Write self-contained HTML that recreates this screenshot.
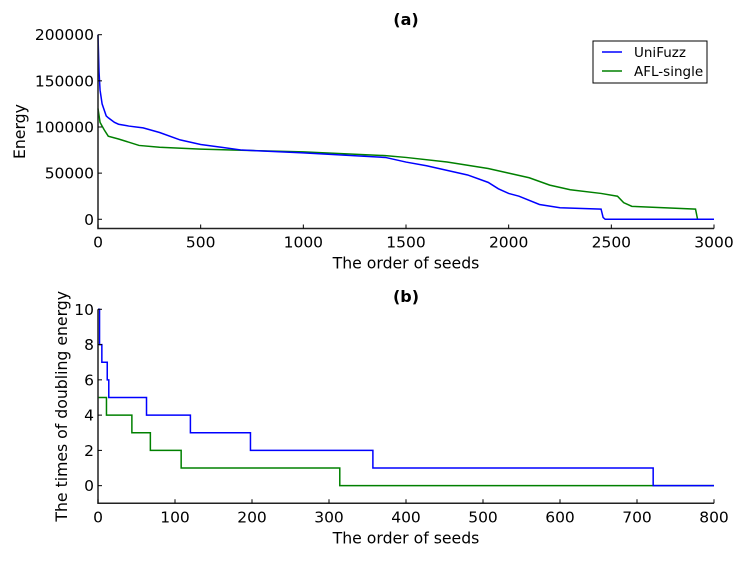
<!DOCTYPE html>
<html><head><meta charset="utf-8"><style>
body{margin:0;background:#fff;}
svg text{font-family:"DejaVu Sans","Liberation Sans",sans-serif;fill:#000;}
</style></head><body>
<svg id="c" width="747" height="556" xmlns="http://www.w3.org/2000/svg"></svg>
<script>
// Panel (a) data
const aUniX=[0,5,10,20,40,50,80,100,150,220,300,400,500,600,700,1000,1400,1500,1600,1700,1800,1900,1950,2000,2050,2150,2250,2450,2460,2470,3000];
const aUniY=[200000,160000,140000,125000,112000,110000,105000,103000,101000,99000,94000,86000,81000,78000,75000,72000,67000,62000,58000,53000,48000,40000,33000,28000,25000,16000,12500,11000,2000,0,0];
const aAflX=[0,10,30,50,100,200,300,500,1000,1400,1500,1700,1900,2000,2100,2200,2300,2450,2530,2560,2600,2700,2910,2920,3000];
const aAflY=[120000,105000,97000,90000,87000,80000,78000,76000,73000,69000,67000,62000,55000,50000,45000,37000,32000,28000,25000,18000,14000,13000,11000,0,0];
const aXTicks=[0,500,1000,1500,2000,2500,3000];
const aYTicks=[0,50000,100000,150000,200000];
// Panel (b) data (step: value holds until next x)
const bUniX=[0,2,5,12,14,63,120,198,357,721,800];
const bUniY=[10,8,7,6,5,4,3,2,1,0,0];
const bAflX=[0,11,44,68,108,314,800];
const bAflY=[5,4,3,2,1,0,0];
const bXTicks=[0,100,200,300,400,500,600,700,800];
const bYTicks=[0,2,4,6,8,10];

const svg=document.getElementById('c');
const NS='http://www.w3.org/2000/svg';
function mk(t,a,p){const e=document.createElementNS(NS,t);for(const k in a)e.setAttribute(k,a[k]);(p||svg).appendChild(e);return e;}
function txt(s,x,y,a,p){const e=mk('text',Object.assign({x:x,y:y},a),p);e.textContent=s;return e;}

function panel(name,x0,x1,yTop,yBot,xmin,xmax,ymin,ymax,xt,yt,series,step,title,titleY,ylabel){
  const g=mk('g',{});
  
  
  const sx=v=>x0+(v-xmin)/(xmax-xmin)*(x1-x0);
  const sy=v=>yBot-(v-ymin)/(ymax-ymin)*(yBot-yTop);
  series.forEach(s=>{
    let d='';
    for(let i=0;i<s.x.length;i++){
      if(i===0) d+='M'+sx(s.x[i])+','+sy(s.y[i]);
      else if(step) d+='H'+sx(s.x[i])+'V'+sy(s.y[i]);
      else d+='L'+sx(s.x[i])+','+sy(s.y[i]);
    }
    const p=mk('path',{d:d,fill:'none',stroke:s.c,'stroke-width':1.5},g);
    
    
  });
  const ax=mk('path',{d:`M${x0},${yTop}V${yBot}H${x1}`,fill:'none',stroke:'#222','stroke-width':1.5},g);
  
  
  xt.forEach(v=>{
    mk('line',{x1:sx(v),x2:sx(v),y1:yBot,y2:yBot-4,stroke:'#000'},g);
    const t=txt(String(v),sx(v),yBot+19,{'font-size':15.5,'text-anchor':'middle'},g);
    
    
  });
  yt.forEach(v=>{
    mk('line',{x1:x0,x2:x0+4,y1:sy(v),y2:sy(v),stroke:'#000'},g);
    const t=txt(String(v),x0-4,sy(v)+5.5,{'font-size':15.5,'text-anchor':'end'},g);
    
    
  });
  const xl=txt('The order of seeds',(x0+x1)/2,yBot+40,{'font-size':15.7,'text-anchor':'middle'},g);
  
  
  const tt=txt(title,(x0+x1)/2,titleY,{'font-size':16,'font-weight':'bold','text-anchor':'middle'},g);
  
  
  const yl=txt(ylabel.t,ylabel.x,(yTop+yBot)/2,{'font-size':15.7,'text-anchor':'middle',transform:`rotate(-90 ${ylabel.x} ${(yTop+yBot)/2})`},g);
  
  
}
panel('panel-a',98,714,34.7,228.5,0,3000,-10000,200000,aXTicks,aYTicks,
  [{x:aAflX,y:aAflY,c:'#008000',n:'afl-single-line'},{x:aUniX,y:aUniY,c:'#0000ff',n:'unifuzz-line'}],
  false,'(a)',25,{t:'Energy',x:25});
panel('panel-b',98,714,309.3,503.3,0,800,-1,10,bXTicks,bYTicks,
  [{x:bAflX,y:bAflY,c:'#008000',n:'afl-single-steps'},{x:bUniX,y:bUniY,c:'#0000ff',n:'unifuzz-steps'}],
  true,'(b)',302,{t:'The times of doubling energy',x:67});
// legend
const lg=mk('g',{});


mk('rect',{x:593,y:41,width:114,height:42,fill:'#fff',stroke:'#000','stroke-width':1},lg);
mk('line',{x1:602,x2:622,y1:52,y2:52,stroke:'#0000ff','stroke-width':1.5},lg);
mk('line',{x1:602,x2:622,y1:71,y2:71,stroke:'#008000','stroke-width':1.5},lg);
const l1=txt('UniFuzz',634,57,{'font-size':13.5},lg);


const l2=txt('AFL-single',634,76,{'font-size':13.5},lg);


</script>
</body></html>
